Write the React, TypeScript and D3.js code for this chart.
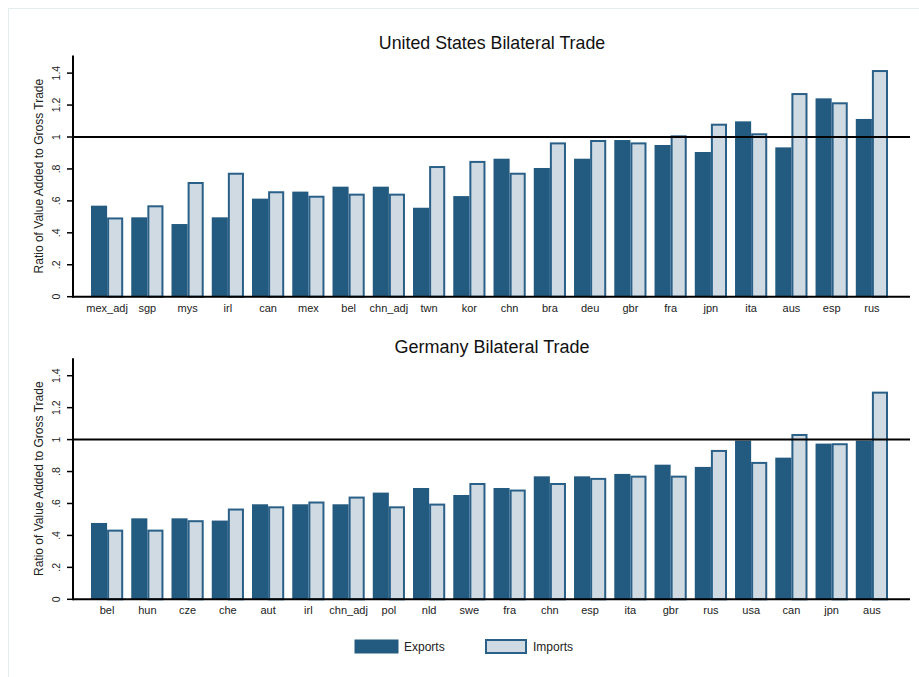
import * as d3 from 'd3';

// United States panel
const usCountries = ['mex_adj', 'sgp', 'mys', 'irl', 'can', 'mex', 'bel', 'chn_adj', 'twn', 'kor',
  'chn', 'bra', 'deu', 'gbr', 'fra', 'jpn', 'ita', 'aus', 'esp', 'rus'];
const usExports = [0.57, 0.497, 0.455, 0.497, 0.614, 0.658, 0.689, 0.689, 0.557, 0.63,
  0.864, 0.806, 0.864, 0.981, 0.95, 0.906, 1.098, 0.935, 1.242, 1.113];
const usImports = [0.49, 0.566, 0.712, 0.77, 0.654, 0.626, 0.639, 0.639, 0.812, 0.844,
  0.77, 0.96, 0.975, 0.96, 1.004, 1.077, 1.017, 1.269, 1.211, 1.413];

// Germany panel
const deCountries = ['bel', 'hun', 'cze', 'che', 'aut', 'irl', 'chn_adj', 'pol', 'nld', 'swe',
  'fra', 'chn', 'esp', 'ita', 'gbr', 'rus', 'usa', 'can', 'jpn', 'aus'];
const deExports = [0.478, 0.507, 0.507, 0.493, 0.595, 0.595, 0.595, 0.668, 0.697, 0.653,
  0.697, 0.77, 0.77, 0.785, 0.843, 0.829, 0.994, 0.887, 0.975, 0.994];
const deImports = [0.43, 0.43, 0.489, 0.562, 0.576, 0.606, 0.637, 0.576, 0.593, 0.722,
  0.681, 0.722, 0.754, 0.768, 0.768, 0.929, 0.854, 1.029, 0.971, 1.294];

const yTicks = [0, 0.2, 0.4, 0.6, 0.8, 1, 1.2, 1.4];
const yTickLabels = ['0', '.2', '.4', '.6', '.8', '1', '1.2', '1.4'];
const seriesNames = ['Exports', 'Imports'];

const FONT = '"Liberation Sans", Arial, Helvetica, sans-serif';
const EXP_FILL = '#235a80';
const IMP_FILL = '#d0dae2';
const IMP_STROKE = '#2a6088';

const PLOT_LEFT = 73;
const PLOT_RIGHT = 910;

interface PanelProps {
  title: string;
  countries: string[];
  exportsVals: number[];
  importsVals: number[];
  baseY: number;
  titleY: number;
  titleSize: number;
}

const Panel = ({ title, countries, exportsVals, importsVals, baseY, titleY, titleSize }: PanelProps) => {
  const x = d3.scaleBand<string>()
    .domain(countries)
    .range([91, 888])
    .paddingInner(0.2)
    .paddingOuter(0);
  const y = d3.scaleLinear().domain([0, 1]).range([baseY, baseY - 159.7]);
  const half = x.bandwidth() / 2;
  const axisTop = y(1.51);

  return (
    <g>
      <text x={492} y={titleY} textAnchor="middle" fontSize={titleSize} fill="#111" fontFamily={FONT}>
        {title}
      </text>

      {/* y axis title */}
      <text
        transform={`translate(43,${(axisTop + baseY) / 2}) rotate(-90)`}
        textAnchor="middle"
        fontSize={12}
        fill="#222"
        fontFamily={FONT}
      >
        Ratio of Value Added to Gross Trade
      </text>

      {/* bars */}
      {countries.map((c, i) => {
        const x0 = x(c) ?? 0;
        const ye = y(exportsVals[i]);
        const yi = y(importsVals[i]);
        return (
          <g key={c}>
            <rect x={x0} y={ye} width={half} height={baseY - ye} fill={EXP_FILL} />
            <rect
              x={x0 + half + 1}
              y={yi}
              width={half - 2}
              height={baseY - yi}
              fill={IMP_FILL}
              stroke={IMP_STROKE}
              strokeWidth={2}
            />
            <text
              x={x0 + x.bandwidth() / 2}
              y={baseY + 15}
              textAnchor="middle"
              fontSize={11}
              fill="#222"
              fontFamily={FONT}
            >
              {c}
            </text>
          </g>
        );
      })}

      {/* reference line at 1 */}
      <line x1={PLOT_LEFT} x2={PLOT_RIGHT} y1={y(1)} y2={y(1)} stroke="#000" strokeWidth={2} />

      {/* axes */}
      <line x1={PLOT_LEFT} x2={PLOT_RIGHT} y1={baseY} y2={baseY} stroke="#000" strokeWidth={2} />
      <line x1={PLOT_LEFT} x2={PLOT_LEFT} y1={axisTop} y2={baseY + 1} stroke="#000" strokeWidth={2} />
      {yTicks.map((t, i) => (
        <g key={t}>
          <line x1={PLOT_LEFT - 6} x2={PLOT_LEFT} y1={y(t)} y2={y(t)} stroke="#000" strokeWidth={1.5} />
          <text
            transform={`translate(60,${y(t)}) rotate(-90)`}
            textAnchor="middle"
            fontSize={10.5}
            fill="#222"
            fontFamily={FONT}
          >
            {yTickLabels[i]}
          </text>
        </g>
      ))}
    </g>
  );
};

export default function App() {
  return (
    <svg
      width={919}
      height={677}
      style={{ position: 'absolute', left: 0, top: 0, background: '#fff' }}
    >
      <rect x={0} y={0} width={919} height={677} fill="#fff" />
      <rect x={8.5} y={8.5} width={930} height={690} fill="none" stroke="#e2eded" strokeWidth={1} />

      <Panel
        title="United States Bilateral Trade"
        countries={usCountries}
        exportsVals={usExports}
        importsVals={usImports}
        baseY={296.7}
        titleY={49}
        titleSize={17.8}
      />
      <Panel
        title="Germany Bilateral Trade"
        countries={deCountries}
        exportsVals={deExports}
        importsVals={deImports}
        baseY={599.3}
        titleY={353}
        titleSize={18}
      />

      {/* legend */}
      <rect x={354.5} y={639.5} width={44} height={14} fill={EXP_FILL} />
      <text x={404} y={651} fontSize={12} fill="#222" fontFamily={FONT}>{seriesNames[0]}</text>
      <rect x={486} y={640} width={40} height={13} fill={IMP_FILL} stroke={IMP_STROKE} strokeWidth={2} />
      <text x={533} y={651} fontSize={12} fill="#222" fontFamily={FONT}>{seriesNames[1]}</text>
    </svg>
  );
}
